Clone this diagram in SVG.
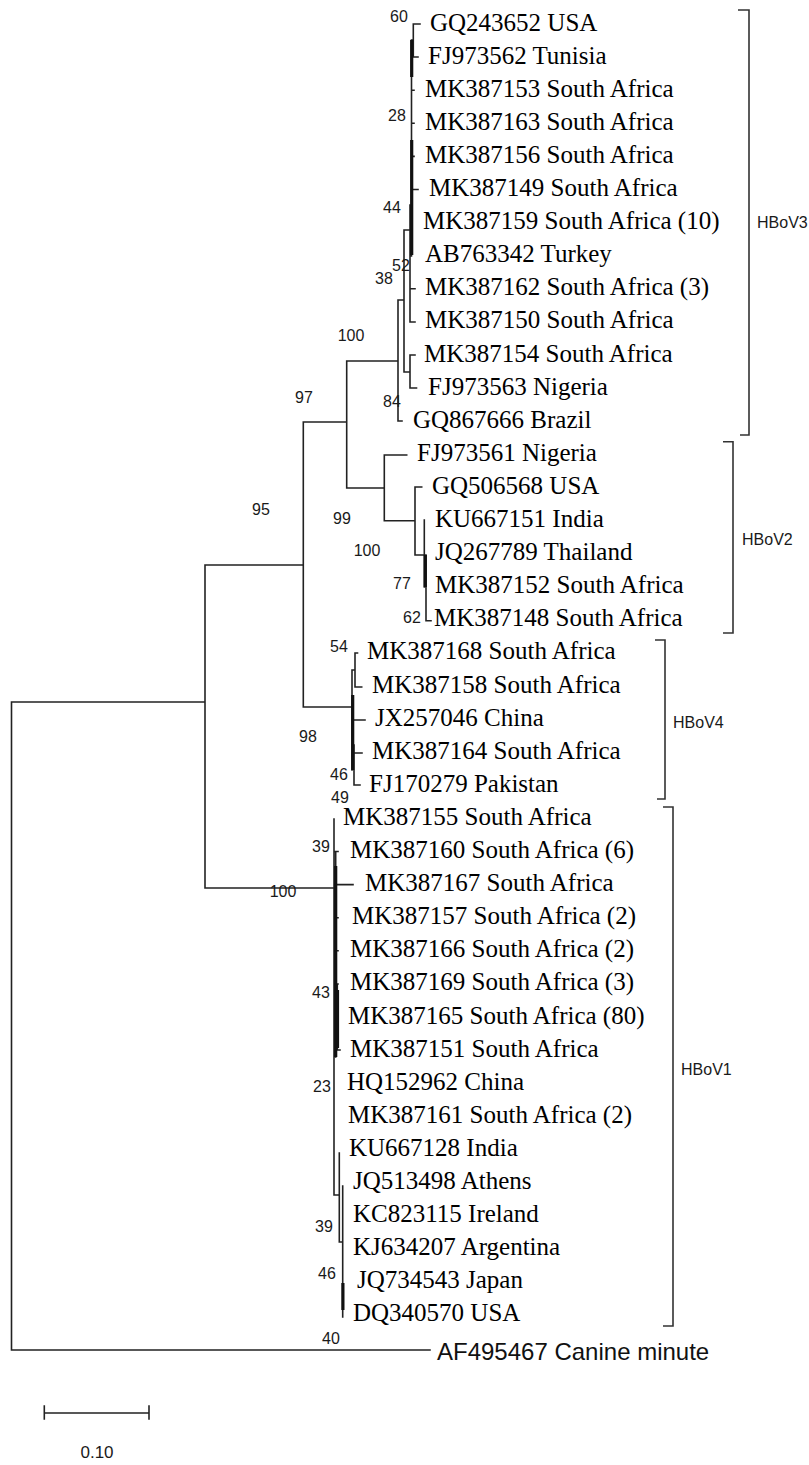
<svg xmlns="http://www.w3.org/2000/svg" width="809" height="1465" viewBox="0 0 809 1465">
<style>
.leaf{font-family:"Liberation Serif","Times New Roman",serif;font-size:25px;fill:#000}
.sans{font-family:"Liberation Sans",Arial,sans-serif;font-size:24px;fill:#111}
.bs{font-family:"Liberation Sans",Arial,sans-serif;font-size:16px;fill:#1a1a1a;text-anchor:middle}
.cl{font-family:"Liberation Sans",Arial,sans-serif;font-size:16px;fill:#1a1a1a}
.br{fill:none;stroke:#222;stroke-width:1.6;stroke-linecap:square}
.thick{fill:none;stroke:#111;stroke-width:3.2}
.bk{fill:none;stroke:#333;stroke-width:1.6}
</style>
<rect width="809" height="1465" fill="#fff"/>

<g id="connectors">
<path class="br" d="
M11.5,702 V1350 M11.5,702 H205 M11.5,1350 H430
M205,565 V888 M205,565 H303.3 M205,888 H334
M303.3,422 V707 M303.3,422 H346.7 M303.3,707 H352
M346.7,361 V488 M346.7,361 H398 M346.7,488 H384.3
M398,300 V421 M398,300 H404 M398,421 H402
M404,230 V372 M404,230 H410 M404,372 H410
M410,355 V388 M410,355 H415 M410,388 H416.5
M410,205 V322 M410,288.8 H415 M410,322 H415
M411.5,40 V256 M411.5,40 H413.3
M413.3,24 V57 M413.3,24 H420 M413.3,57 H418
M411.5,90.2 H414 M411.5,123.3 H414 M411.5,156.4 H414 M411.5,189.5 H418
M384.3,455 V520.7 M384.3,455 H406.7 M384.3,520.7 H415
M415,487 V555 M415,487 H421.7 M415,555 H425
M424.3,520 V587 M426,555 V620.7 M426,620.7 H431
M352,670 V770 M352,670 H355 M355,653 V687 M355,653 H357.5 M355,687 H361.7
M352,720 H365 M354,745 V785 M354,753 H362 M354,785 H360
M334,819 V1195 M334,851.5 H338 M335.7,851.5 V1057 M335,884.6 H353
M335,917.7 H338 M335,950.8 H338 M335,984 H338 M337.3,984 V1050 M337.3,1050 H340
M334,1195 H339.3 M339.3,1153 V1242 M339.3,1242 H342.7 M342.7,1186 V1317
"/>
<path class="thick" d="M411.7,40 V77 M411.7,140 V255 M425.3,555 V587 M352.7,695 V770 M335.7,866 V1057 M337.5,990 V1048 M342.9,1283 V1310"/>
</g>

<g id="leaves">
<g id="n0"><text class="leaf" x="430" y="30.5">GQ243652 USA</text></g>
<g id="n1"><text class="leaf" x="428" y="63.6">FJ973562 Tunisia</text></g>
<g id="n2"><text class="leaf" x="425" y="96.7">MK387153 South Africa</text></g>
<g id="n3"><text class="leaf" x="425" y="129.8">MK387163 South Africa</text></g>
<g id="n4"><text class="leaf" x="425" y="162.9">MK387156 South Africa</text></g>
<g id="n5"><text class="leaf" x="429" y="196">MK387149 South Africa</text></g>
<g id="n6"><text class="leaf" x="423" y="229.1">MK387159 South Africa (10)</text></g>
<g id="n7"><text class="leaf" x="425" y="262.2">AB763342 Turkey</text></g>
<g id="n8"><text class="leaf" x="425" y="295.3">MK387162 South Africa (3)</text></g>
<g id="n9"><text class="leaf" x="425" y="328.4">MK387150 South Africa</text></g>
<g id="n10"><text class="leaf" x="424" y="361.5">MK387154 South Africa</text></g>
<g id="n11"><text class="leaf" x="428" y="394.6">FJ973563 Nigeria</text></g>
<g id="n12"><text class="leaf" x="413" y="427.7">GQ867666 Brazil</text></g>
<g id="n13"><text class="leaf" x="417" y="460.8">FJ973561 Nigeria</text></g>
<g id="n14"><text class="leaf" x="432" y="493.9">GQ506568 USA</text></g>
<g id="n15"><text class="leaf" x="435" y="527">KU667151 India</text></g>
<g id="n16"><text class="leaf" x="435" y="560.1">JQ267789 Thailand</text></g>
<g id="n17"><text class="leaf" x="435" y="593.2">MK387152 South Africa</text></g>
<g id="n18"><text class="leaf" x="434" y="626.3">MK387148 South Africa</text></g>
<g id="n19"><text class="leaf" x="367" y="659.4">MK387168 South Africa</text></g>
<g id="n20"><text class="leaf" x="372" y="692.5">MK387158 South Africa</text></g>
<g id="n21"><text class="leaf" x="375" y="725.6">JX257046 China</text></g>
<g id="n22"><text class="leaf" x="372" y="758.7">MK387164 South Africa</text></g>
<g id="n23"><text class="leaf" x="369" y="791.8">FJ170279 Pakistan</text></g>
<g id="n24"><text class="leaf" x="343" y="824.9">MK387155 South Africa</text></g>
<g id="n25"><text class="leaf" x="350" y="858">MK387160 South Africa (6)</text></g>
<g id="n26"><text class="leaf" x="365" y="891.1">MK387167 South Africa</text></g>
<g id="n27"><text class="leaf" x="352" y="924.2">MK387157 South Africa (2)</text></g>
<g id="n28"><text class="leaf" x="350" y="957.3">MK387166 South Africa (2)</text></g>
<g id="n29"><text class="leaf" x="350" y="990.4">MK387169 South Africa (3)</text></g>
<g id="n30"><text class="leaf" x="348" y="1023.5">MK387165 South Africa (80)</text></g>
<g id="n31"><text class="leaf" x="350" y="1056.6">MK387151 South Africa</text></g>
<g id="n32"><text class="leaf" x="347" y="1089.7">HQ152962 China</text></g>
<g id="n33"><text class="leaf" x="348" y="1122.8">MK387161 South Africa (2)</text></g>
<g id="n34"><text class="leaf" x="349" y="1155.9">KU667128 India</text></g>
<g id="n35"><text class="leaf" x="353" y="1189">JQ513498 Athens</text></g>
<g id="n36"><text class="leaf" x="353" y="1222.1">KC823115 Ireland</text></g>
<g id="n37"><text class="leaf" x="353" y="1255.2">KJ634207 Argentina</text></g>
<g id="n38"><text class="leaf" x="357" y="1288.3">JQ734543 Japan</text></g>
<g id="n39"><text class="leaf" x="353" y="1321.4">DQ340570 USA</text></g>
<g id="n40"><text class="sans" x="437" y="1360">AF495467 Canine minute</text></g>
</g>

<g id="bootstrap">
<text class="bs" x="399" y="21.5">60</text>
<text class="bs" x="397" y="120.5">28</text>
<text class="bs" x="392" y="212.5">44</text>
<text class="bs" x="384" y="283.5">38</text>
<text class="bs" x="401" y="270.5">52</text>
<text class="bs" x="351" y="340.5">100</text>
<text class="bs" x="392" y="406.5">84</text>
<text class="bs" x="304" y="402.5">97</text>
<text class="bs" x="261" y="514.5">95</text>
<text class="bs" x="342" y="523.5">99</text>
<text class="bs" x="367" y="555.5">100</text>
<text class="bs" x="402" y="588.5">77</text>
<text class="bs" x="412" y="622.5">62</text>
<text class="bs" x="339" y="651.5">54</text>
<text class="bs" x="308" y="741.5">98</text>
<text class="bs" x="339" y="779.5">46</text>
<text class="bs" x="340" y="802.5">49</text>
<text class="bs" x="321" y="851.5">39</text>
<text class="bs" x="283" y="896.5">100</text>
<text class="bs" x="321" y="997.5">43</text>
<text class="bs" x="322" y="1091.5">23</text>
<text class="bs" x="324" y="1231.5">39</text>
<text class="bs" x="327" y="1278.5">46</text>
<text class="bs" x="331" y="1343.5">40</text>
</g>

<g id="clade-HBoV3"><path class="bk" d="M738,10 H749 V435 H740"/><text class="cl" x="757" y="228">HBoV3</text></g>
<g id="clade-HBoV2"><path class="bk" d="M723,441.7 H733 V633 H723"/><text class="cl" x="742" y="545">HBoV2</text></g>
<g id="clade-HBoV4"><path class="bk" d="M655,640 H665 V799 H657"/><text class="cl" x="673" y="727.5">HBoV4</text></g>
<g id="clade-HBoV1"><path class="bk" d="M663,807 H673 V1326 H663"/><text class="cl" x="681" y="1075">HBoV1</text></g>

<g id="scale">
<path class="br" d="M44.3,1413 H149 M44.3,1406 V1419 M149,1406 V1419"/>
<text class="bs" x="97" y="1458" style="font-size:17px">0.10</text>
</g>
</svg>
